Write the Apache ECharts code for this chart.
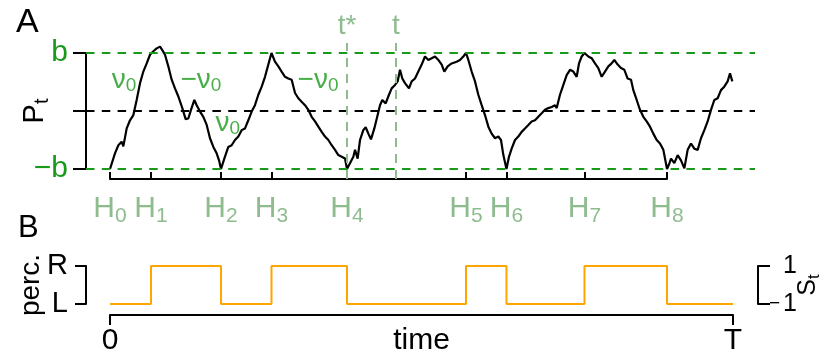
<!DOCTYPE html>
<html><head><meta charset="utf-8">
<script src="https://cdn.jsdelivr.net/npm/echarts@6/dist/echarts.min.js"></script>
<style>html,body{margin:0;padding:0;background:#fff}#c{width:828px;height:356px}</style>
</head><body><div id="c"></div>
<script>
// ---------- data ----------
const T = 100;
const hitTimes = [0, 6.58, 17.82, 25.92, 38.04, 57.14, 63.64, 76.16, 89.41];
const hitIndex = ['0', '1', '2', '3', '4', '5', '6', '7', '8'];
const percLevels = [-1, 1, -1, 1, -1, 1, -1, 1, -1];
const percTickValues = [-1, 1];
const percNames = { '-1': 'L', '1': 'R' };
const stateNames = { '-1': '{d|\u2212}{n|1}', '1': '{n|1}' };
const boundValues = [-1, 0, 1];
const boundNames = { '-1': '\u2212b', '0': '', '1': 'b' };
const timeTickValues = [0, T];
const timeTickNames = ['0', 'T'];
const tStar = 38.04;
const tNow = 45.91;

const walkT = [0, 0.80, 1.34, 1.87, 2.14, 2.68, 3.21, 3.75, 4.28, 4.82, 5.35, 5.89, 6.42, 6.96, 7.49, 8.03, 8.40, 8.83, 9.36, 9.90, 10.43, 10.97, 11.61, 12.14, 12.57, 13.00, 13.54, 13.91, 14.45, 14.98, 15.52, 16.05, 16.59, 17.12, 17.50, 17.82, 18.35,
  18.99, 19.53, 20.06, 20.60, 21.13, 21.67, 22.20, 22.74, 23.27, 23.81, 24.35, 24.88, 25.41, 25.92, 26.48, 27.02, 27.55, 28.09, 28.62, 29.16, 29.70, 30.23, 30.76, 31.30, 31.83, 32.37, 32.91, 33.44, 33.98, 34.51, 35.05, 35.58, 36.12, 36.65, 37.19, 37.72, 38.04,
  38.52, 39.06, 39.33, 39.75, 40.13, 40.66, 41.04, 41.47, 41.89, 42.43, 42.96, 43.34, 43.71, 44.25, 44.78, 45.21, 45.75, 46.17, 46.55, 46.92, 47.35, 47.99, 48.42, 48.96, 49.49, 50.03, 50.56, 51.10, 51.63, 52.17, 52.70, 53.24, 53.66, 54.20, 54.84, 55.64, 56.18, 56.71, 57.14,
  57.52, 58.05, 58.59, 59.12, 59.66, 60.19, 60.73, 61.26, 61.80, 62.33, 62.76, 63.14, 63.64, 64.04, 64.47, 65.01, 65.54, 66.08, 66.61, 67.15, 67.68, 68.22, 68.75, 69.29, 69.82, 70.36, 70.89, 71.43, 71.70, 72.23, 72.77, 73.30, 73.84, 74.37, 74.91, 75.28, 75.71, 76.16,
  76.78, 77.31, 77.85, 78.38, 78.92, 79.45, 79.99, 80.52, 80.95, 81.49, 82.02, 82.56, 83.09, 83.63, 84.00, 84.54, 85.07, 85.61, 86.14, 86.68, 87.21, 87.75, 88.28, 88.82, 89.41,
  89.80, 90.05, 90.58, 91.12, 91.65, 92.19, 92.72, 93.26, 93.79, 94.33, 94.86, 95.40, 95.93, 96.47, 97.00, 97.54, 98.07, 98.60, 99.14, 99.52, 99.89];
const walkP = [-1, -0.73, -0.59, -0.53, -0.61, -0.30, -0.16, -0.07, 0.19, 0.48, 0.68, 0.82, 0.97, 1.03, 1.08, 1.11, 1.05, 0.97, 0.77, 0.54, 0.39, 0.25, 0.05, -0.14, -0.13, 0.02, 0.19, 0.10, -0.01, -0.10, -0.24, -0.47, -0.62, -0.73, -0.85, -1.0, -0.82,
  -0.62, -0.59, -0.50, -0.44, -0.33, -0.30, -0.16, -0.01, 0.10, 0.28, 0.42, 0.59, 0.80, 1.0, 0.85, 0.77, 0.68, 0.59, 0.56, 0.54, 0.31, 0.22, 0.16, 0.10, 0.02, -0.10, -0.18, -0.27, -0.36, -0.44, -0.50, -0.59, -0.67, -0.76, -0.79, -0.82, -1.0,
  -0.90, -0.79, -0.67, -0.82, -0.50, -0.33, -0.28, -0.39, -0.49, -0.30, -0.07, 0.10, 0.19, 0.13, 0.28, 0.39, 0.45, 0.51, 0.71, 0.56, 0.48, 0.39, 0.51, 0.56, 0.68, 0.80, 0.94, 0.88, 0.91, 0.94, 0.88, 0.80, 0.68, 0.77, 0.82, 0.85, 0.88, 0.94, 1.0,
  0.88, 0.68, 0.51, 0.28, 0.10, -0.07, -0.27, -0.39, -0.47, -0.44, -0.50, -0.76, -1.0, -0.79, -0.65, -0.50, -0.44, -0.36, -0.30, -0.24, -0.18, -0.16, -0.10, -0.04, 0.02, 0.05, 0.07, 0.10, 0.05, 0.28, 0.45, 0.62, 0.71, 0.68, 0.59, 0.82, 0.94, 1.0,
  0.94, 0.91, 0.82, 0.74, 0.59, 0.68, 0.77, 0.82, 0.88, 0.80, 0.74, 0.71, 0.56, 0.54, 0.36, 0.19, 0.02, -0.10, -0.18, -0.27, -0.39, -0.50, -0.56, -0.67, -1.0,
  -0.90, -0.82, -0.90, -0.76, -0.85, -0.99, -0.67, -0.56, -0.65, -0.67, -0.47, -0.33, -0.18, 0.02, 0.19, 0.22, 0.36, 0.42, 0.51, 0.65, 0.51];

// drift annotations (text labels placed in data coordinates)
const driftT = [2.25, 14.6, 18.9, 33.4];
const driftP = [0.53, 0.53, -0.21, 0.53];
const driftSign = ['', '\u2212', '', '\u2212'];

// ---------- styles ----------
const FONT = '"Liberation Sans", Arial, sans-serif';
const GREEN = '#1a9a1a';
const LIGHT = '#8fbc8f';
const ORANGE = '#ffa500';
const pxPerUnit = 623 / T;
const DASH = [8.5, 7.3];

function nearestIdx(arr, v) {
  let best = 0;
  for (let i = 1; i < arr.length; i++) if (Math.abs(arr[i] - v) < Math.abs(arr[best] - v)) best = i;
  return best;
}

const chart = echarts.init(document.getElementById('c'), null, { renderer: 'canvas' });
const option = {
  animation: false,
  backgroundColor: '#fff',
  textStyle: { fontFamily: FONT },
  title: [
    { text: 'A', left: 11, top: 1, textStyle: { fontSize: 34, fontWeight: 'normal', color: '#000', fontFamily: FONT } },
    { text: 'B', left: 13, top: 208, textStyle: { fontSize: 31, fontWeight: 'normal', color: '#000', fontFamily: FONT } }
  ],
  grid: [
    { left: 86, right: 73, top: 53, height: 116, containLabel: false, outerBoundsMode: 'none' },
    { left: 110, right: 161, top: 43, height: 136, containLabel: false, outerBoundsMode: 'none' },
    { left: 110, right: 95, top: 266, height: 38, containLabel: false, outerBoundsMode: 'none' }
  ],
  xAxis: [
    { gridIndex: 0, type: 'value', min: -24 / pxPerUnit, max: 645 / pxPerUnit, show: false },
    {
      gridIndex: 1, type: 'value', min: 0, max: hitTimes[hitTimes.length - 1], position: 'bottom',
      axisLine: { show: true, onZero: false, lineStyle: { color: '#000', width: 2 } },
      axisTick: { show: true, inside: true, length: 7, customValues: hitTimes, lineStyle: { color: '#000', width: 2 } },
      axisLabel: {
        show: true, customValues: hitTimes, margin: 11, showMinLabel: true, showMaxLabel: true,
        formatter: v => '{h|H}{s|' + hitIndex[nearestIdx(hitTimes, v)] + '}',
        rich: {
          h: { fontSize: 30, color: LIGHT, fontFamily: FONT },
          s: { fontSize: 21, color: LIGHT, fontFamily: FONT, padding: [16, 0, 0, 0] }
        }
      },
      splitLine: { show: false }
    },
    {
      gridIndex: 2, type: 'value', min: 0, max: T, offset: 11,
      axisLine: { show: true, onZero: false, lineStyle: { color: '#000', width: 2 } },
      axisTick: { show: true, length: 10, customValues: timeTickValues, lineStyle: { color: '#000', width: 2 } },
      axisLabel: {
        show: true, customValues: timeTickValues, margin: 11, fontSize: 30, color: '#000', showMinLabel: true, showMaxLabel: true,
        formatter: v => timeTickNames[nearestIdx(timeTickValues, v)]
      },
      splitLine: { show: false },
      name: 'time', nameLocation: 'middle', nameGap: 11, nameMoveOverlap: false,
      nameTextStyle: { fontSize: 30, color: '#000' }
    }
  ],
  yAxis: [
    {
      gridIndex: 0, type: 'value', min: -1, max: 1,
      axisLine: { show: true, onZero: false, lineStyle: { color: '#000', width: 2 } },
      axisTick: { show: true, length: 13, customValues: boundValues, lineStyle: { color: '#000', width: 2 } },
      axisLabel: {
        show: true, customValues: boundValues, margin: 18, color: GREEN, fontSize: 30,
        formatter: v => boundNames[String(v)]
      },
      splitLine: { show: false },
      name: '{m|P}{s|t}', nameLocation: 'middle', nameRotate: 90, nameGap: 34, nameMoveOverlap: false,
      nameTextStyle: {
        rich: {
          m: { fontSize: 29, color: '#000', fontFamily: FONT },
          s: { fontSize: 20, color: '#000', fontFamily: FONT, padding: [14, 0, 0, 0] }
        }
      }
    },
    { gridIndex: 1, type: 'value', min: 0, max: 1, show: false },
    {
      gridIndex: 2, type: 'value', min: -1, max: 1, offset: 24,
      axisLine: { show: true, onZero: false, lineStyle: { color: '#000', width: 2 } },
      axisTick: { show: true, length: 11, customValues: percTickValues, lineStyle: { color: '#000', width: 2 } },
      axisLabel: {
        show: true, customValues: percTickValues, margin: 18, color: '#000', fontSize: 29,
        formatter: v => percNames[String(v)]
      },
      splitLine: { show: false },
      name: 'perc.', nameLocation: 'middle', nameRotate: 90, nameGap: 41, nameMoveOverlap: false,
      nameTextStyle: { fontSize: 28, color: '#000' }
    },
    {
      gridIndex: 2, type: 'value', min: -1, max: 1, position: 'right', offset: 25,
      axisLine: { show: true, onZero: false, lineStyle: { color: '#000', width: 2 } },
      axisTick: { show: true, length: 12, customValues: percTickValues, lineStyle: { color: '#000', width: 2 } },
      axisLabel: {
        show: true, customValues: percTickValues, margin: 39, align: 'right', color: '#000', fontSize: 25,
        formatter: v => stateNames[String(v)],
        rich: {
          d: { fontSize: 19, color: '#000', fontFamily: FONT, padding: [0, 3, 0, 0], verticalAlign: 'middle', lineHeight: 25 },
          n: { fontSize: 25, color: '#000', fontFamily: FONT, verticalAlign: 'middle', lineHeight: 25 }
        }
      },
      splitLine: { show: false },
      name: '{m|S}{s|t}', nameLocation: 'middle', nameRotate: 90, nameGap: 36, nameMoveOverlap: false,
      nameTextStyle: {
        rich: {
          m: { fontSize: 25, color: '#000', fontFamily: FONT },
          s: { fontSize: 17, color: '#000', fontFamily: FONT, padding: [12, 0, 0, 0] }
        }
      }
    }
  ],
  series: [
    {
      name: 'bounds', type: 'line', xAxisIndex: 0, yAxisIndex: 0, data: [], z: 1, silent: true,
      markLine: {
        silent: true, symbol: 'none', animation: false,
        label: { show: false },
        lineStyle: { type: DASH, width: 2 },
        data: [
          { yAxis: 1, lineStyle: { color: GREEN, type: DASH, width: 2 } },
          { yAxis: 0, lineStyle: { color: '#000', type: DASH, width: 2 } },
          { yAxis: -1, lineStyle: { color: GREEN, type: DASH, width: 2 } }
        ]
      }
    },
    {
      name: 'times', type: 'line', xAxisIndex: 1, yAxisIndex: 1, data: [], z: 1, silent: true,
      markLine: {
        silent: true, symbol: 'none', animation: false,
        lineStyle: { type: [9, 7], width: 2, color: LIGHT },
        label: { show: true, position: 'end', distance: 3, color: LIGHT, fontSize: 28, fontFamily: FONT },
        data: [
          { xAxis: tStar, label: { formatter: 't*' } },
          { xAxis: tNow, label: { formatter: 't' } }
        ]
      }
    },
    {
      name: 'walk', type: 'line', xAxisIndex: 0, yAxisIndex: 0, z: 3, clip: false,
      showSymbol: false, symbol: 'none',
      lineStyle: { color: '#000', width: 2.2 },
      data: walkT.map((t, i) => [t, walkP[i]])
    },
    {
      name: 'drift', type: 'scatter', xAxisIndex: 0, yAxisIndex: 0, z: 4, symbolSize: 0, silent: true,
      label: {
        show: true, position: 'inside',
        rich: {
          m: { fontSize: 28, color: GREEN, fontFamily: FONT },
          s: { fontSize: 19, color: GREEN, fontFamily: FONT, padding: [12, 0, 0, 0] }
        }
      },
      data: driftT.map((t, i) => ({
        value: [t, driftP[i]],
        label: { formatter: '{m|' + driftSign[i] + '\u03bd}{s|0}' }
      }))
    },
    {
      name: 'perception', type: 'line', step: 'end', xAxisIndex: 2, yAxisIndex: 2, z: 3,
      showSymbol: false, symbol: 'none', clip: false,
      lineStyle: { color: ORANGE, width: 2 },
      data: hitTimes.map((t, i) => [t, percLevels[i]]).concat([[T, percLevels[percLevels.length - 1]]])
    }
  ]
};
chart.setOption(option);
</script>
</body></html>
